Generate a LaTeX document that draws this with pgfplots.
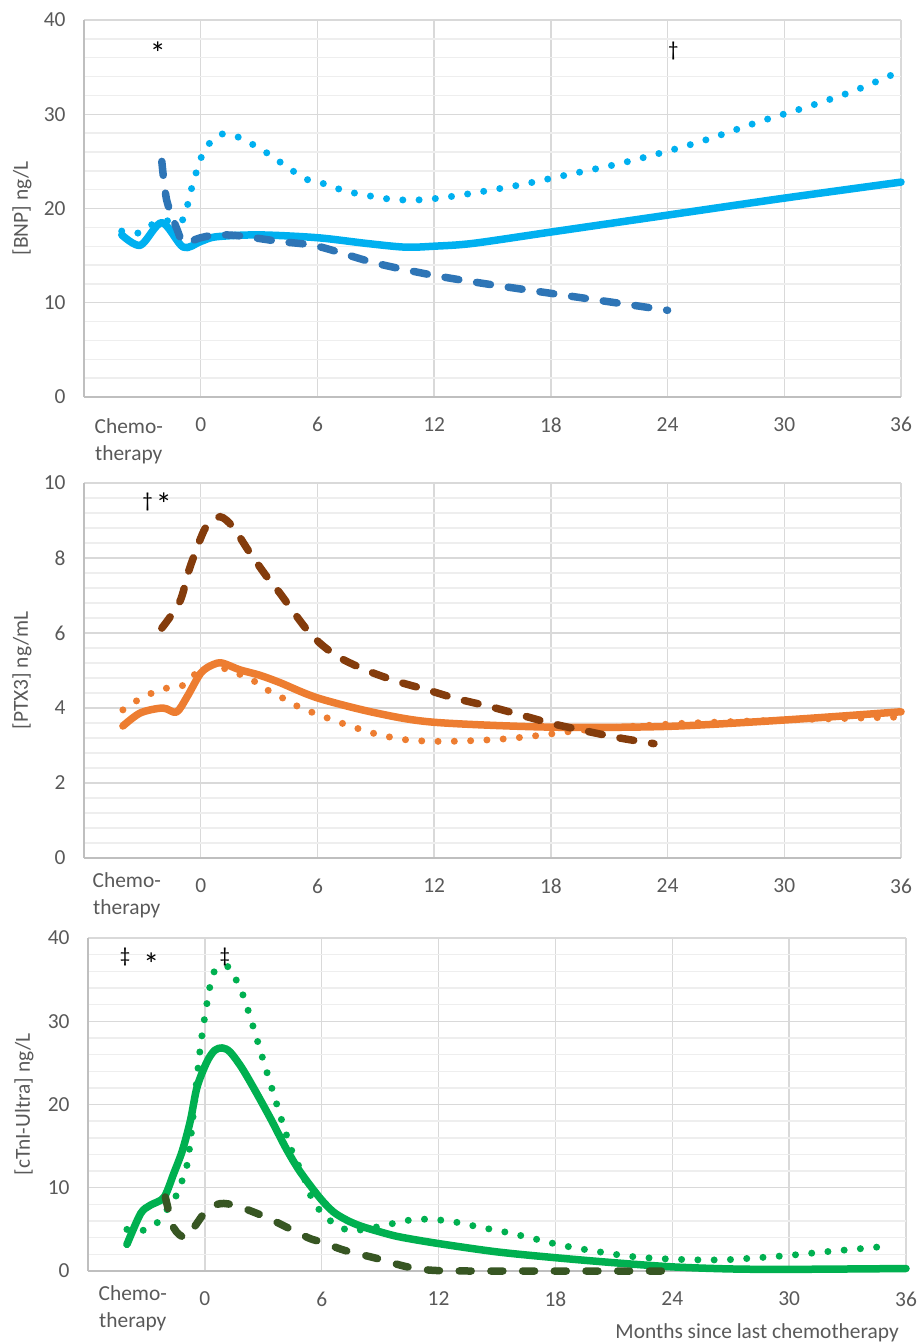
\documentclass[border=0pt]{standalone}
\usepackage{fontspec}
\setmainfont{Carlito}
\usepackage{pgfplots}
\pgfplotsset{compat=1.18}

\definecolor{bnpl}{HTML}{00B0F0}
\definecolor{bnpd}{HTML}{2E75B6}
\definecolor{ptxl}{HTML}{ED7D31}
\definecolor{ptxd}{HTML}{843C0C}
\definecolor{tnl}{HTML}{00B050}
\definecolor{tnd}{HTML}{375623}
\definecolor{gridmaj}{HTML}{D9D9D9}
\definecolor{gridmin}{HTML}{EEEEEE}
\definecolor{axisgray}{HTML}{BFBFBF}
\definecolor{labgray}{HTML}{595959}

\newcommand\tickfont{\fontsize{21.5}{27.3}\selectfont}
\newcommand\markfont{\fontsize{21}{24}\selectfont}
\newcommand\astfont{\fontsize{32}{32}\selectfont}

\tikzset{
  symb/.style={anchor=north, inner sep=0pt, font=\markfont},
  astsym/.style={anchor=north, inner sep=0pt, font=\astfont},
}

\pgfplotsset{
  panel/.style={
    scale only axis,
    xmin=-6, xmax=36, ymin=0,
    xtick={0,6,...,36},
    minor y tick num=4,
    grid=both,
    major grid style={draw=gridmaj, line width=1.4bp},
    minor grid style={draw=gridmin, line width=1.4bp},
    axis x line*=bottom, axis y line*=left,
    axis line style={draw=axisgray, line width=1.8bp, -},
    tick style={draw=none},
    ticklabel style={font=\tickfont, text=labgray},
    /pgf/number format/assume math mode=true,
    xticklabel style={yshift=-17bp},
    yticklabel style={xshift=-15bp},
    clip=false,
  },
  solidline/.style={smooth, no markers, line width=7.5bp, line cap=round, line join=round},
  dotline/.style={smooth, no markers, line width=7bp, line cap=round, dash pattern=on 0bp off 16.3bp},
  dashline/.style={smooth, no markers, line width=7.5bp, line cap=round, dash pattern=on 14bp off 18bp},
}

\begin{document}
\begin{tikzpicture}[x=1bp,y=1bp]
\useasboundingbox (0,0) rectangle (919,-1342);

% ---- BNP
\begin{axis}[panel, at={(84bp,-397bp)}, anchor=south west,
    width=817bp, height=377bp, ymax=40, ytick={0,10,...,40}]
  \addplot[dotline, bnpl] coordinates {
    (-4.06,17.6) (-3.2,17.4) (-2.5,18.3) (-1.75,18.7) (-1.0,18.6) (-0.7,20.2)
    (-0.5,21.9) (-0.25,23.7) (0,25.3) (0.4,26.8) (1.07,27.9) (1.9,27.6)
    (2.67,26.8) (3.4,25.9) (4.1,24.9) (4.8,23.9) (5.55,23.0) (6.4,22.6)
    (7.2,22.0) (8.0,21.6) (9.7,21.0) (11,20.9) (12.25,21.1) (13.9,21.6)
    (16.4,22.5) (18.9,23.6) (21.4,24.7) (23.85,26.0) (26,27.3) (28.7,29.2)
    (31.2,30.8) (33.6,32.5) (36,34.6)};
  \addplot[solidline, bnpl] coordinates {
    (-4.06,17.2) (-3.1,16.1) (-2.0,18.5) (-0.9,15.9) (0,16.5) (0.8,17.0)
    (3,17.2) (6,16.9) (8.5,16.3) (10.5,15.9) (12,16.0) (14,16.3) (18,17.5)
    (24,19.3) (30,21.1) (36,22.8)};
  \addplot[dashline, bnpd] coordinates {
    (-2.0,25.0) (-1.75,20.9) (-1.2,17.7) (-0.87,16.4) (0,16.9) (0.8,17.2)
    (2,17.1) (4.06,16.5) (6,16.0) (9,14.2) (12,12.9) (15,11.9) (18,11.0)
    (21,10.1) (24,9.2)};
  \node[astsym] at (axis cs:-2.2,37.7) {*};
  \node[symb] at (axis cs:24.3,37.7) {†};
  \node[font=\tickfont, text=labgray, rotate=90] at ([xshift=-62bp]axis cs:-6,20) {[BNP] ng/L};
  \node[font=\tickfont, text=labgray, align=center, anchor=north, inner sep=0pt]
    at (axis cs:-3.7,0) [yshift=-21bp] {Chemo-\\therapy};
\end{axis}

% ---- PTX3
\begin{axis}[panel, at={(84bp,-858bp)}, anchor=south west,
    width=817bp, height=375bp, ymax=10, ytick={0,2,...,10}]
  \addplot[dotline, ptxl] coordinates {
    (-4.0,3.95) (-3.3,4.19) (-2.5,4.4) (-1.75,4.53) (-0.93,4.6) (-0.3,4.9)
    (0.37,5.1) (1.23,5.05) (2.0,4.9) (2.8,4.7) (3.5,4.46) (4.2,4.27)
    (5.0,4.04) (5.8,3.87) (7.4,3.57) (9.0,3.31) (10.6,3.15) (12.3,3.11)
    (14.0,3.13) (15.7,3.18) (17.4,3.27) (19.1,3.38) (21,3.47) (23.7,3.56)
    (25.2,3.6) (30,3.68) (36,3.76)};
  \addplot[solidline, ptxl] coordinates {
    (-4.0,3.52) (-3.1,3.87) (-1.95,4.0) (-1.25,3.89) (-0.7,4.3) (0,4.93)
    (0.6,5.15) (1.1,5.2) (2,5.02) (3,4.88) (4.06,4.68) (6,4.27) (9,3.87)
    (12,3.62) (18,3.49) (24,3.51) (30,3.68) (36,3.9)};
  \addplot[dashline, ptxd] coordinates {
    (-2.0,6.13) (-1.08,6.83) (-0.6,7.68) (0,8.53) (0.35,8.88) (1.0,9.1)
    (1.65,8.83) (2.5,8.16) (3.4,7.5) (4.06,7.07) (5.6,6.0) (6.9,5.42)
    (8.45,5.02) (10.1,4.71) (11.6,4.49) (13.15,4.25) (14.85,4.04)
    (16.55,3.8) (18.1,3.58) (19.85,3.38) (21.55,3.2) (23.3,3.05)};
  \node[symb] at (axis cs:-2.73,9.73) {†};
  \node[astsym] at (axis cs:-1.9,9.73) {*};
  \node[font=\tickfont, text=labgray, rotate=90] at ([xshift=-62bp]axis cs:-6,5) {[PTX3] ng/mL};
  \node[font=\tickfont, text=labgray, align=center, anchor=north, inner sep=0pt]
    at (axis cs:-3.8,0) [yshift=-14bp] {Chemo-\\therapy};
\end{axis}

% ---- cTnI-Ultra
\begin{axis}[panel, at={(88bp,-1271bp)}, anchor=south west,
    width=818bp, height=333bp, ymax=40, ytick={0,10,...,40}]
  \addplot[dotline, tnl] coordinates {
    (-4.0,5.0) (-3.15,4.9) (-2.45,5.8) (-1.46,9.1) (-1.15,11.0) (-0.9,12.9)
    (-0.7,16.5) (-0.5,21) (-0.25,26.5) (0,30.6) (0.3,34.6) (0.6,36.4)
    (1.25,36.5) (1.66,34.7) (2.0,32.9) (2.5,29.2) (3.0,25.3) (3.5,21.5)
    (4.0,17.7) (4.55,13.9) (5.0,11.8) (5.5,8.7) (6.04,6.9) (6.7,5.6)
    (7.5,4.8) (8.3,5.1) (9.1,5.4) (10.0,5.9) (10.8,6.2) (11.7,6.2)
    (12.5,6.0) (13.3,5.7) (14.2,5.2) (15.0,4.9) (16.7,4.0) (18.3,3.1)
    (20.0,2.4) (21.7,1.8) (23.3,1.5) (25.1,1.35) (26.7,1.35) (28.4,1.6)
    (30.1,1.9) (31.8,2.3) (33.5,2.65) (35.3,3.05)};
  \addplot[solidline, tnl] coordinates {
    (-4.0,3.2) (-3.3,6.9) (-2.8,7.9) (-2.1,8.85) (-1.6,11.7) (-1.15,14.5)
    (-0.74,18.1) (-0.4,22.1) (0.1,25.1) (0.5,26.5) (0.9,26.8) (1.3,26.3)
    (1.9,24.4) (2.6,21.6) (3.4,18.2) (4.2,14.6) (4.9,11.9) (5.9,8.8)
    (6.6,7.1) (7.3,6.1) (8,5.4) (9,4.7) (10,4.1) (12,3.3) (15,2.3) (18,1.6)
    (21,1.0) (24,0.5) (27,0.25) (30,0.2) (36,0.3)};
  \addplot[dashline, tnd, dash pattern=on 12bp off 19.7bp] coordinates {
    (-2.03,8.9) (-1.6,5.2) (-1.0,4.0) (-0.57,5.2) (0.1,7.3) (0.8,8.1)
    (1.66,7.8) (3.2,6.4) (5.3,4.0) (6.0,3.5) (7.15,2.5) (8.85,1.5)
    (10.4,0.5) (12,0.05) (16,0) (20,0) (23.8,0)};
  \node[symb] at (axis cs:-4.1,38.8) {‡};
  \node[astsym] at (axis cs:-2.75,38.3) {*};
  \node[symb] at (axis cs:1.03,38.8) {‡};
  \node[font=\tickfont, text=labgray, rotate=90] at ([xshift=-64bp]axis cs:-6,20) {[cTnI-Ultra] ng/L};
  \node[font=\tickfont, text=labgray, align=center, anchor=north, inner sep=0pt]
    at (axis cs:-3.7,0) [yshift=-14bp] {Chemo-\\therapy};
\end{axis}

\node[font=\tickfont, text=labgray, anchor=base east, inner sep=0pt] at (899,-1338) {Months since last chemotherapy};
\end{tikzpicture}
\end{document}
